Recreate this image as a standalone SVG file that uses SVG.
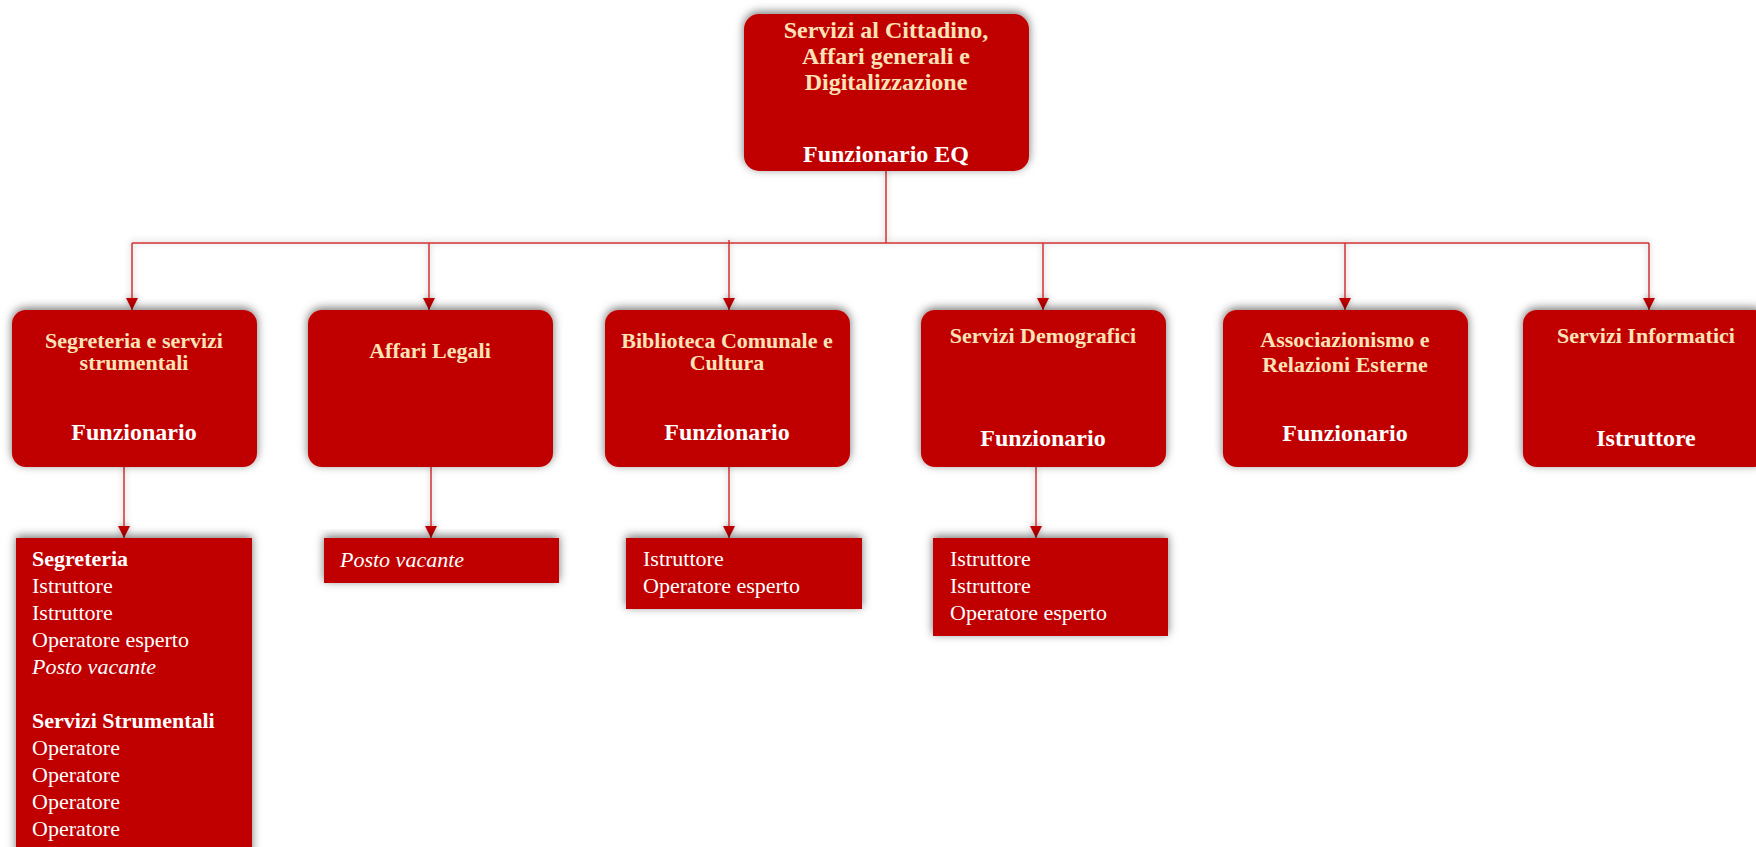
<svg xmlns="http://www.w3.org/2000/svg" width="1756" height="847" viewBox="0 0 1756 847">
  <defs>
    <filter id="shadow" x="-10%" y="-20%" width="120%" height="140%">
      <feDropShadow dx="0" dy="-2" stdDeviation="5" flood-color="#000" flood-opacity="0.55"/>
    </filter>
    <filter id="lineGlow" x="-5%" y="-50%" width="110%" height="200%">
      <feDropShadow dx="0" dy="-1" stdDeviation="3" flood-color="#000" flood-opacity="0.3"/>
    </filter>
    <marker id="arrow" viewBox="0 0 10 10" refX="10" refY="5" markerWidth="12" markerHeight="12" markerUnits="userSpaceOnUse" orient="auto">
      <path d="M0,0 L10,5 L0,10 Z" fill="#c00000"/>
    </marker>
  </defs>
  <style>
    .box { fill: #c00000; filter: url(#shadow); }
    .title { font-family: "Liberation Serif", "Times New Roman", serif; font-weight: bold; fill: #fbe3b8; text-anchor: middle; }
    .role { font-family: "Liberation Serif", "Times New Roman", serif; font-weight: bold; fill: #ffffff; text-anchor: middle; font-size: 24px; }
    .t24 { font-size: 24px; }
    .t22 { font-size: 22px; }
    .list { font-family: "Liberation Serif", "Times New Roman", serif; font-size: 22px; fill: #ffffff; }
    .list .b { font-weight: bold; }
    .list .i { font-style: italic; }
    .conn { fill: none; stroke: #d03030; stroke-width: 1.5; }
  </style>

  <rect width="1756" height="847" fill="#ffffff"/>

  <!-- connectors -->
  <g id="connectors" filter="url(#lineGlow)">
    <path class="conn" d="M886,171 V243"/>
    <path class="conn" d="M132,243 H1649"/>
    <path class="conn" d="M132,243 V310" marker-end="url(#arrow)"/>
    <path class="conn" d="M429,243 V310" marker-end="url(#arrow)"/>
    <path class="conn" d="M729,240 V310" marker-end="url(#arrow)"/>
    <path class="conn" d="M1043,243 V310" marker-end="url(#arrow)"/>
    <path class="conn" d="M1345,243 V310" marker-end="url(#arrow)"/>
    <path class="conn" d="M1649,243 V310" marker-end="url(#arrow)"/>
    <path class="conn" d="M124,467 V538" marker-end="url(#arrow)"/>
    <path class="conn" d="M431,467 V538" marker-end="url(#arrow)"/>
    <path class="conn" d="M729,467 V538" marker-end="url(#arrow)"/>
    <path class="conn" d="M1036,467 V538" marker-end="url(#arrow)"/>
  </g>

  <!-- head of area -->
  <g id="node-root">
    <rect class="box" x="744" y="14" width="285" height="157" rx="15"/>
    <text class="title t24" x="886" y="38">Servizi al Cittadino,</text>
    <text class="title t24" x="886" y="64">Affari generali e</text>
    <text class="title t24" x="886" y="90">Digitalizzazione</text>
    <text class="role" x="886" y="162">Funzionario EQ</text>
  </g>

  <!-- services -->
  <g id="node-segreteria">
    <rect class="box" x="12" y="310" width="245" height="157" rx="14"/>
    <text class="title t22" x="134" y="348">Segreteria e servizi</text>
    <text class="title t22" x="134" y="370">strumentali</text>
    <text class="role" x="134" y="440">Funzionario</text>
  </g>

  <g id="node-affari-legali">
    <rect class="box" x="308" y="310" width="245" height="157" rx="14"/>
    <text class="title t22" x="430" y="358">Affari Legali</text>
  </g>

  <g id="node-biblioteca">
    <rect class="box" x="605" y="310" width="245" height="157" rx="14"/>
    <text class="title t22" x="727" y="348">Biblioteca Comunale e</text>
    <text class="title t22" x="727" y="370">Cultura</text>
    <text class="role" x="727" y="440">Funzionario</text>
  </g>

  <g id="node-demografici">
    <rect class="box" x="921" y="310" width="245" height="157" rx="14"/>
    <text class="title t22" x="1043" y="343">Servizi Demografici</text>
    <text class="role" x="1043" y="446">Funzionario</text>
  </g>

  <g id="node-associazionismo">
    <rect class="box" x="1223" y="310" width="245" height="157" rx="14"/>
    <text class="title t22" x="1345" y="347">Associazionismo e</text>
    <text class="title t22" x="1345" y="372">Relazioni Esterne</text>
    <text class="role" x="1345" y="441">Funzionario</text>
  </g>

  <g id="node-informatici">
    <rect class="box" x="1523" y="310" width="245" height="157" rx="14"/>
    <text class="title t22" x="1646" y="343">Servizi Informatici</text>
    <text class="role" x="1646" y="446">Istruttore</text>
  </g>

  <!-- staff lists -->
  <g id="node-staff-segreteria">
    <rect class="box" x="16" y="538" width="236" height="330"/>
    <text class="list" x="32" y="566">
      <tspan class="b" x="32" dy="0">Segreteria</tspan>
      <tspan x="32" dy="27">Istruttore</tspan>
      <tspan x="32" dy="27">Istruttore</tspan>
      <tspan x="32" dy="27">Operatore esperto</tspan>
      <tspan class="i" x="32" dy="27">Posto vacante</tspan>
      <tspan class="b" x="32" dy="54">Servizi Strumentali</tspan>
      <tspan x="32" dy="27">Operatore</tspan>
      <tspan x="32" dy="27">Operatore</tspan>
      <tspan x="32" dy="27">Operatore</tspan>
      <tspan x="32" dy="27">Operatore</tspan>
    </text>
  </g>

  <g id="node-staff-affari-legali">
    <rect class="box" x="324" y="538" width="235" height="45"/>
    <text class="list" x="340" y="567"><tspan class="i">Posto vacante</tspan></text>
  </g>

  <g id="node-staff-biblioteca">
    <rect class="box" x="626" y="538" width="236" height="71"/>
    <text class="list" x="643" y="566">
      <tspan x="643" dy="0">Istruttore</tspan>
      <tspan x="643" dy="27">Operatore esperto</tspan>
    </text>
  </g>

  <g id="node-staff-demografici">
    <rect class="box" x="933" y="538" width="235" height="98"/>
    <text class="list" x="950" y="566">
      <tspan x="950" dy="0">Istruttore</tspan>
      <tspan x="950" dy="27">Istruttore</tspan>
      <tspan x="950" dy="27">Operatore esperto</tspan>
    </text>
  </g>
</svg>
